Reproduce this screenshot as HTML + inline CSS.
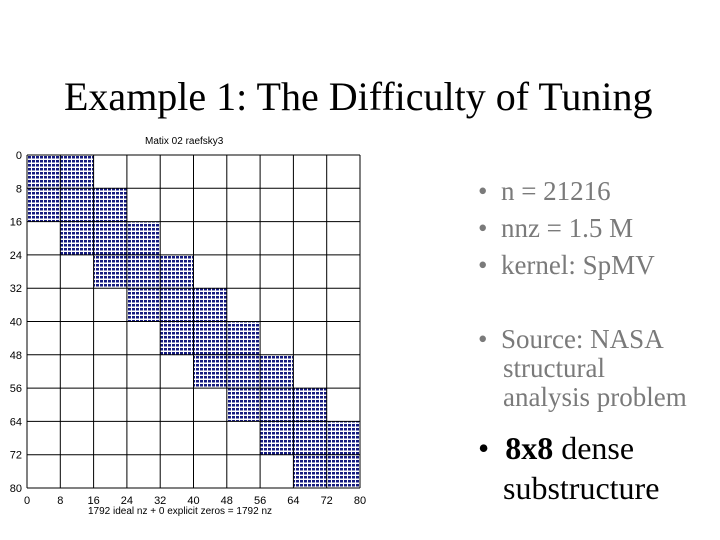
<!DOCTYPE html>
<html><head><meta charset="utf-8"><style>
html,body{margin:0;padding:0;background:#fff;width:720px;height:540px;overflow:hidden}
.t{position:absolute;font-family:"Liberation Serif",serif;white-space:nowrap}
.g{color:#7a7a7a;font-size:27px}
.b{color:#000;font-size:32px}
</style></head><body>
<div class="t" style="left:64px;top:73px;font-size:40px;color:#000">Example 1: The Difficulty of Tuning</div>
<svg id="chart" width="720" height="540" style="position:absolute;left:0;top:0">
<defs><pattern id="dots" width="4" height="4" patternUnits="userSpaceOnUse"><rect x="0" y="0" width="3" height="2.5" fill="#141a80"/></pattern></defs>
</svg>
<div class="t g" style="left:478px;top:176px">•&nbsp; n = 21216</div>
<div class="t g" style="left:478px;top:213px">•&nbsp; nnz = 1.5 M</div>
<div class="t g" style="left:478px;top:250px">•&nbsp; kernel: SpMV</div>
<div class="t g" style="left:478px;top:325px;line-height:29px">•&nbsp; Source: NASA<br><span style="padding-left:25px">structural</span><br><span style="padding-left:25px">analysis problem</span></div>
<div class="t b" style="left:478px;top:428px;line-height:40px">•&nbsp; <b>8x8</b> dense<br><span style="padding-left:25px">substructure</span></div>
<script>
const ticks=[0,8,16,24,32,40,48,56,64,72,80];
const blockRows=[0,8,16,24,32,40,48,56,64,72];
const blockColStart=[0,0,8,16,24,32,40,48,56,64];
const blockColEnd=[16,24,32,40,48,56,64,72,80,80];
const NS="http://www.w3.org/2000/svg",svg=document.getElementById('chart');
const X=v=>27+v*(333/80),Y=v=>155+v*(333/80);
function mk(t,a){const e=document.createElementNS(NS,t);for(const k in a)e.setAttribute(k,a[k]);svg.appendChild(e);return e;}
blockRows.forEach((r,i)=>{
 const e=mk('rect',{x:X(blockColStart[i]),y:Y(r),width:X(blockColEnd[i])-X(blockColStart[i]),height:Y(r+8)-Y(r),fill:'url(#dots)'});
 
 
});
ticks.forEach(v=>{
 const gx=mk('line',{x1:X(v),x2:X(v),y1:Y(0),y2:Y(80),stroke:'#000','stroke-width':1});
 
 
 const gy=mk('line',{x1:X(0),x2:X(80),y1:Y(v),y2:Y(v),stroke:'#000','stroke-width':1});
 
 
 const tx=mk('text',{x:X(v),y:Y(80)+16,'text-anchor':'middle','font-family':'Liberation Sans,sans-serif','font-size':11});
 tx.textContent=v;
 
 
 const ty=mk('text',{x:22,y:Y(v)+4,'text-anchor':'end','font-family':'Liberation Sans,sans-serif','font-size':11});
 ty.textContent=v;
 
 
});
const tt=mk('text',{x:145,y:144,'font-family':'Liberation Sans,sans-serif','font-size':10});
tt.textContent='Matix 02  raefsky3';


const xl=mk('text',{x:88,y:514,'font-family':'Liberation Sans,sans-serif','font-size':10});
xl.textContent='1792 ideal nz + 0 explicit zeros = 1792 nz';


</script>
</body></html>
